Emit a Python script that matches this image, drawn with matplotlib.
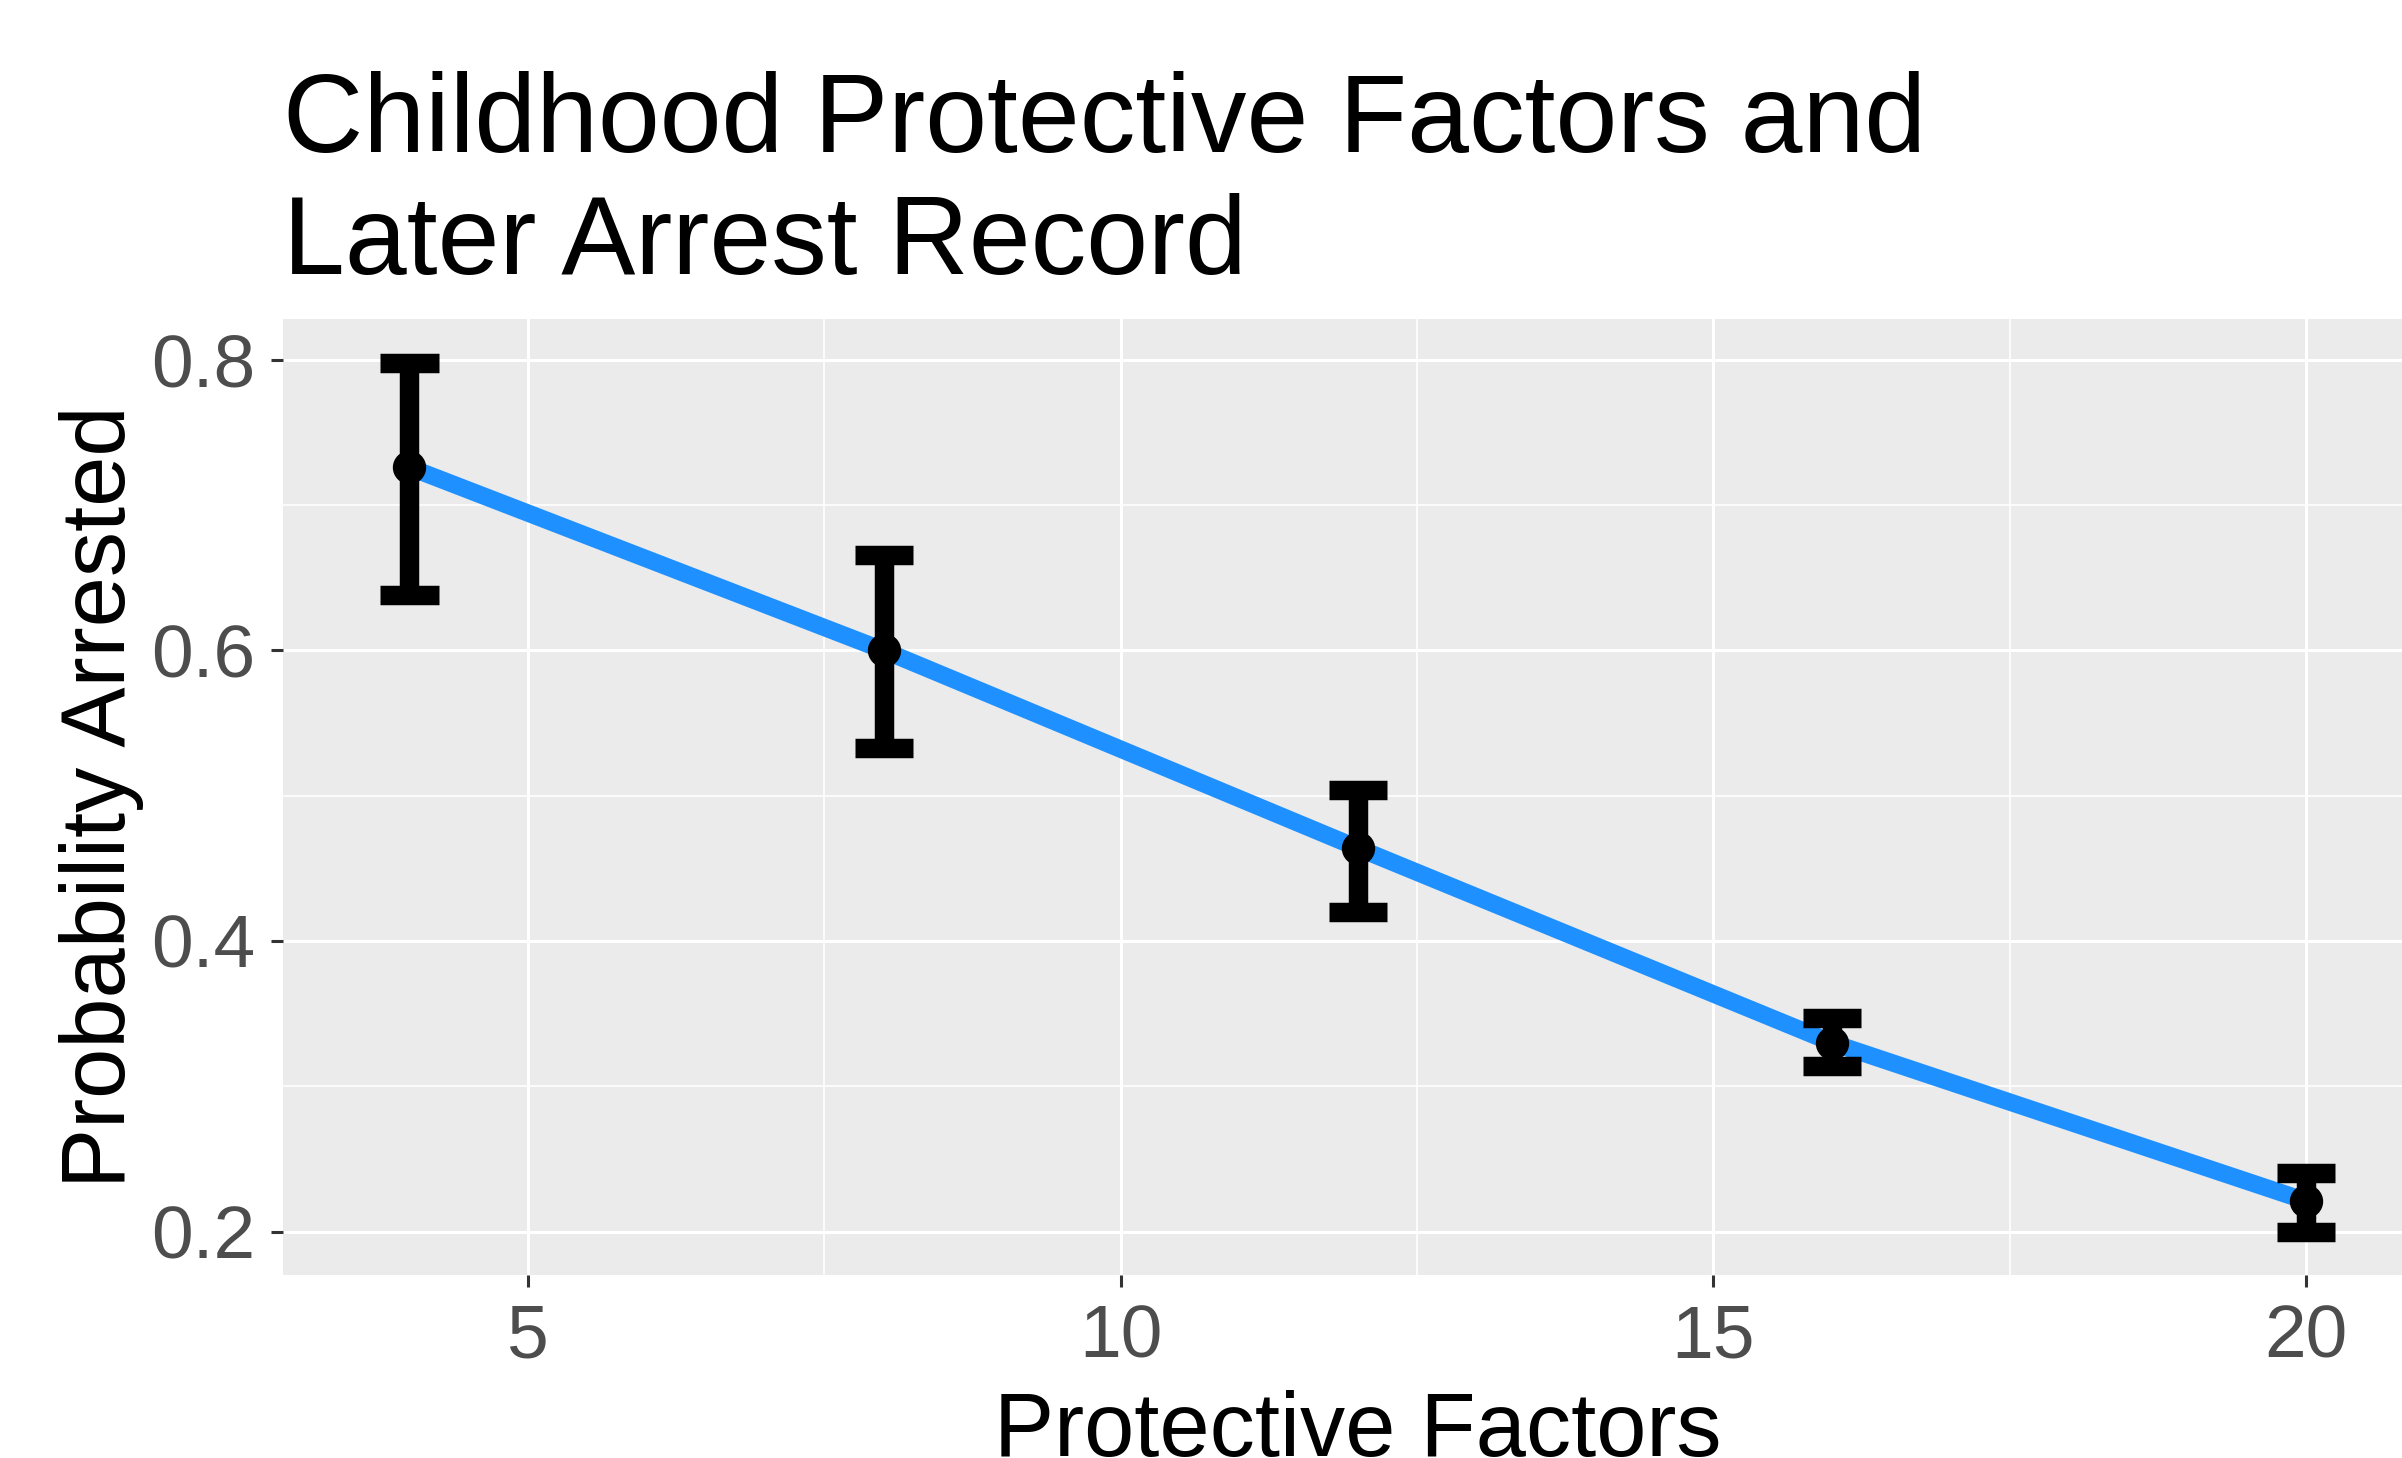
import numpy as np
import matplotlib
matplotlib.use('Agg')
import matplotlib.pyplot as plt

# values
factors = np.array([4, 8, 12, 16, 20])
prob_arrested = np.array([0.726, 0.600, 0.464, 0.330, 0.221])
ci_low = np.array([0.638, 0.533, 0.420, 0.314, 0.200])
ci_high = np.array([0.798, 0.666, 0.504, 0.347, 0.240])

x_ticks = [5, 10, 15, 20]
x_minor = [7.5, 12.5, 17.5]
y_ticks = [0.2, 0.4, 0.6, 0.8]
y_minor = [0.3, 0.5, 0.7]

plt.rcParams['font.family'] = ['Liberation Sans', 'DejaVu Sans']

fig = plt.figure(figsize=(24.02, 14.58), dpi=100)
ax = fig.add_axes([0.1177, 0.1255, 0.8952, 0.6555])
ax.set_facecolor('#EBEBEB')
for s in ax.spines.values():
    s.set_visible(False)

cap = 0.245

# fitted line, then error bars, then points on top
ax.plot(factors, prob_arrested, color='#1E90FF', lw=12.5, solid_capstyle='butt', zorder=3)
ax.vlines(factors, ci_low, ci_high, color='black', lw=14, capstyle='butt', zorder=4)
ax.hlines(ci_low, factors - cap, factors + cap, color='black', lw=14, capstyle='butt', zorder=4)
ax.hlines(ci_high, factors - cap, factors + cap, color='black', lw=14, capstyle='butt', zorder=4)
ax.plot(factors, prob_arrested, 'o', color='black', ms=23, zorder=5)

# ggplot-like 5% expansion
xlo, xhi = factors.min() - cap, factors.max() + cap
ylo, yhi = ci_low.min(), ci_high.max()
ax.set_xlim(xlo - 0.05 * (xhi - xlo), xhi + 0.05 * (xhi - xlo))
ax.set_ylim(ylo - 0.05 * (yhi - ylo), yhi + 0.05 * (yhi - ylo))

ax.set_xticks(x_ticks)
ax.set_xticks(x_minor, minor=True)
ax.set_yticks(y_ticks)
ax.set_yticks(y_minor, minor=True)
ax.set_yticklabels([f'{v:.1f}' for v in y_ticks])

ax.set_axisbelow(True)
ax.grid(which='major', color='white', lw=2.2)
ax.grid(which='minor', color='white', lw=1.2)

ax.tick_params(which='major', length=8.6, width=2.2, color='#333333',
               labelcolor='#4D4D4D', labelsize=54)
ax.tick_params(axis='x', which='major', pad=12)
ax.tick_params(axis='y', which='major', pad=11)
ax.tick_params(which='minor', length=0)

ax.set_xlabel('Protective Factors', fontsize=65, color='black')
ax.set_ylabel('Probability Arrested', fontsize=65, color='black')
ax.xaxis.set_label_coords(0.5, -0.1203)
ax.yaxis.set_label_coords(-0.0645, 0.5)

fig.text(0.1177, 1 - 274 / 1458, 'Childhood Protective Factors and\nLater Arrest Record',
         fontsize=80, color='black', ha='left', va='baseline', linespacing=1.22)

fig.savefig('out.png', dpi=100)
